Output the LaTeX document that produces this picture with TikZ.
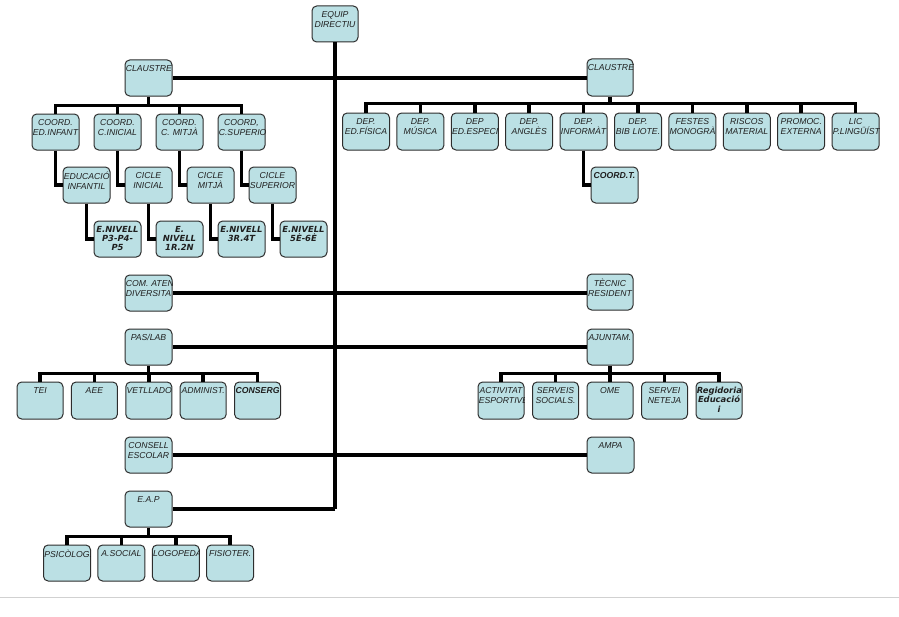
\documentclass[tikz,border=0pt]{standalone}
\usepackage{fontspec}
\usetikzlibrary{calc}
\setmainfont{Liberation Sans}
\newfontfamily\dvb{DejaVu Sans}[ItalicFont={DejaVu Sans Oblique},BoldFont={DejaVu Sans Bold},BoldItalicFont={DejaVu Sans Bold Oblique}]
\hyphenpenalty=10000
\exhyphenpenalty=10000
\definecolor{boxfill}{RGB}{187,224,228}
\definecolor{boxline}{RGB}{45,45,45}
\tikzset{
  obox/.style={draw=boxline, line width=0.75pt, fill=boxfill, rounded corners=3.5pt, inner sep=0pt, shape=rectangle},
  otext/.style={draw=none, fill=none, inner sep=0pt, anchor=north, align=center, text=black!88,
    font=\fontsize{6.5}{7.5}\selectfont\itshape},
  bt/.style={font=\fontsize{6.5}{7.3}\selectfont\bfseries\itshape},
  vt/.style={font=\fontsize{6.3}{6.9}\selectfont\dvb\bfseries\itshape},
  link/.style={line width=2.7pt, draw=black},
  trunk/.style={line width=3pt, draw=black},
}
\newcommand\orgbox[7][]{%
  \pgfmathsetmacro\orgtw{(#5-#3)*0.75-1.2}%
  \node[obox, minimum width={(#5-#3)*0.75pt}, minimum height={(#6-#4)*0.75pt}]
    (#2) at ({(#3+#5)/2},{(#4+#6)/2}) {};
  \begin{scope}
    \clip[rounded corners=3.5pt] (#2.south west) rectangle (#2.north east);
    \node[otext, text width=\orgtw pt, #1] (#2-t) at ([yshift=-4.1pt]#2.north) {#7};
  \end{scope}}
\begin{document}
\begin{tikzpicture}[x=0.75pt,y=-0.75pt]
\useasboundingbox (0,0) rectangle (899,617);
\draw[black!18, line width=0.75pt] (0,597) -- (899,597);

% ---------- boxes ----------
\orgbox{equip}{312}{6}{358}{42}{EQUIP\\DIRECTIU}
\orgbox{claL}{125}{60}{172}{96}{CLAUSTRE}
\orgbox{claR}{587}{59}{633}{96}{CLAUSTRE}

\orgbox{c1}{32}{114}{79}{150}{COORD.\\ED.INFANT}
\orgbox{c2}{94}{114}{141}{150}{COORD.\\C.INICIAL}
\orgbox{c3}{156}{114}{203}{150}{COORD.\\C. MITJÀ}
\orgbox{c4}{218}{114}{265}{150}{COORD,\\C.SUPERIO}

\orgbox{k1}{63}{167}{110}{203}{EDUCACIÓ\\INFANTIL}
\orgbox{k2}{125}{167}{172}{203}{CICLE\\INICIAL}
\orgbox{k3}{187}{167}{234}{203}{CICLE\\MITJÀ}
\orgbox{k4}{249}{167}{296}{203}{CICLE\\SUPERIOR}

\orgbox[vt]{n1}{94}{221}{141}{257}{E.NIVELL\\P3-P4-\\P5}
\orgbox[vt]{n2}{156}{221}{203}{257}{E.\\NIVELL\\1R.2N}
\orgbox[vt]{n3}{218}{221}{265}{257}{E.NIVELL\\3R.4T}
\orgbox[vt]{n4}{280}{221}{327}{257}{E.NIVELL\\5È-6È}

\orgbox{d1}{342.5}{113}{389.5}{150}{DEP.\\ED.FÍSICA}
\orgbox{d2}{396.9}{113}{443.9}{150}{DEP.\\MÚSICA}
\orgbox{d3}{451.3}{113}{498.3}{150}{DEP\\ED.ESPECI.}
\orgbox{d4}{505.7}{113}{552.7}{150}{DEP.\\ANGLÈS}
\orgbox{d5}{560.1}{113}{607.1}{150}{DEP.\\INFORMÀT}
\orgbox{d6}{614.5}{113}{661.5}{150}{DEP.\\BIB LIOTE.}
\orgbox{d7}{668.9}{113}{715.9}{150}{FESTES\\MONOGRÀ}
\orgbox{d8}{723.3}{113}{770.3}{150}{RISCOS\\MATERIAL}
\orgbox{d9}{777.7}{113}{824.7}{150}{PROMOC.\\EXTERNA}
\orgbox{d10}{832.1}{113}{879.1}{150}{LIC\\P.LINGÜÍST}
\orgbox[bt]{coordt}{591}{167}{638}{203}{COORD.T.}

\orgbox{com}{125}{275}{172}{311}{COM.~ATEN\\DIVERSITA}
\orgbox{tec}{587}{274}{633}{310}{TÈCNIC\\RESIDENT}
\orgbox{pas}{125}{329}{172}{365}{PAS/LAB}
\orgbox{ajt}{587}{329}{633}{365}{AJUNTAM.}

\orgbox{p1}{17}{382}{63}{419}{TEI}
\orgbox{p2}{71.4}{382}{117.4}{419}{AEE}
\orgbox{p3}{125.8}{382}{171.8}{419}{VETLLADO}
\orgbox{p4}{180.2}{382}{226.2}{419}{ADMINIST.}
\orgbox[bt]{p5}{234.6}{382}{280.6}{419}{CONSERG}

\orgbox{a1}{478}{382}{524}{419}{ACTIVITAT\\ESPORTIVE}
\orgbox{a2}{532.5}{382}{578.5}{419}{SERVEIS\\SOCIALS.}
\orgbox{a3}{587}{382}{633}{419}{OME}
\orgbox{a4}{641.5}{382}{687.5}{419}{SERVEI\\NETEJA}
\orgbox[vt]{a5}{696}{382}{742}{419}{Regidoria\\Educació\\i}

\orgbox{cons}{125}{437}{172}{473}{CONSELL\\ESCOLAR}
\orgbox{ampa}{587}{437}{634}{473}{AMPA}
\orgbox{eap}{125}{491}{172}{527}{E.A.P}

\orgbox{e1}{43.5}{545}{90.5}{581}{PSICÒLOG.}
\orgbox{e2}{97.9}{545}{144.9}{581}{A.SOCIAL}
\orgbox{e3}{152.3}{545}{199.3}{581}{LOGOPEDA}
\orgbox{e4}{206.7}{545}{253.7}{581}{FISIOTER.}

% ---------- connectors ----------
\coordinate (tb) at (equip.south |- eap.east);
\draw[trunk] (equip.south) -- (tb);
\draw[link] (tb) -- (eap.east);
\draw[link] (claL.east) -- (claR.west |- claL.east);
\draw[link] (com.east) -- (tec.west |- com.east);
\draw[link] (pas.east) -- (ajt.west |- pas.east);
\draw[link] (cons.east) -- (ampa.west |- cons.east);

% left claustre
\coordinate (busL) at ($(claL.south)+(0,9)$);
\draw[link] (claL.south) -- (busL);
\foreach \c in {c1,c2,c3,c4} \draw[link] (busL) -| (\c.north);
\draw[link] (c1.south) |- (k1.west);
\draw[link] (c2.south) |- (k2.west);
\draw[link] (c3.south) |- (k3.west);
\draw[link] (c4.south) |- (k4.west);
\draw[link] (k1.south) |- (n1.west);
\draw[link] (k2.south) |- (n2.west);
\draw[link] (k3.south) |- (n3.west);
\draw[link] (k4.south) |- (n4.west);

% right claustre
\coordinate (busR) at ($(claR.south)+(0,7)$);
\draw[link] (claR.south) -- (busR);
\foreach \c in {d1,d2,d3,d4,d5,d6,d7,d8,d9,d10} \draw[link] (busR) -| (\c.north);
\draw[link] (d5.south) |- (coordt.west);

% pas/lab
\coordinate (busP) at ($(pas.south)+(0,8)$);
\draw[link] (pas.south) -- (busP);
\foreach \c in {p1,p2,p3,p4,p5} \draw[link] (busP) -| (\c.north);

% ajuntament
\coordinate (busA) at ($(ajt.south)+(0,8)$);
\draw[link] (ajt.south) -- (busA);
\foreach \c in {a1,a2,a3,a4,a5} \draw[link] (busA) -| (\c.north);

% eap
\coordinate (busE) at ($(eap.south)+(0,9)$);
\draw[link] (eap.south) -- (busE);
\foreach \c in {e1,e2,e3,e4} \draw[link] (busE) -| (\c.north);
\end{tikzpicture}
\end{document}
